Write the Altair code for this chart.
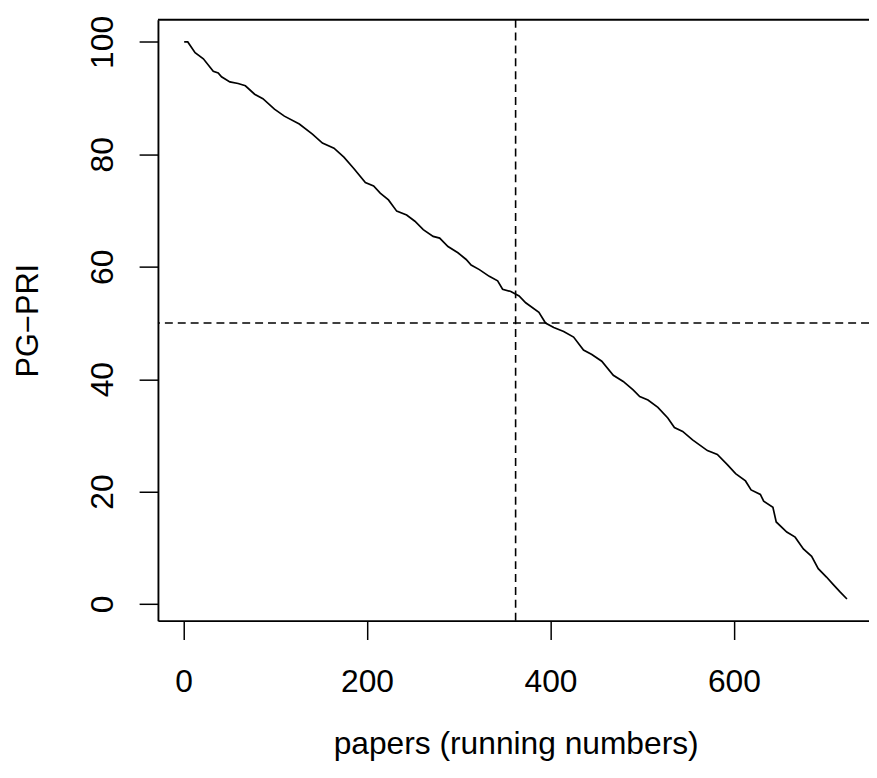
import altair as alt
import pandas as pd

# Breakpoints (paper running number, PG-PRI)
papers = [0.7, 4.6, 12.6, 21.6, 32.4, 37.8, 41.4, 50.5, 59.5, 67.4, 77.5, 86.5,
          99.1, 109.9, 126.2, 140.5, 151.4, 164.0, 174.8, 185.6, 198.2, 207.2,
          214.4, 223.4, 232.4, 243.2, 252.2, 261.3, 272.1, 279.2, 288.3, 299.1,
          308.1, 313.5, 322.5, 333.3, 342.4, 347.8, 356.8, 365.8, 373.0, 387.4,
          394.6, 403.6, 414.4, 425.2, 436.0, 445.1, 455.9, 468.5, 479.3, 490.1,
          497.3, 506.3, 517.1, 527.9, 535.1, 544.1, 554.9, 571.1, 581.9, 592.8,
          601.8, 612.6, 618.7, 628.8, 632.4, 642.5, 646.1, 657.6, 666.7, 675.7,
          684.7, 691.9, 700.9, 708.1, 715.4, 723.2]
pgpri = [100.0, 100.0, 98.1, 97.0, 94.8, 94.5, 93.8, 92.9, 92.6, 92.2, 90.7, 89.9,
         88.05, 86.8, 85.4, 83.6, 82.0, 81.1, 79.5, 77.5, 75.0, 74.4,
         73.1, 71.9, 69.9, 69.2, 68.1, 66.6, 65.4, 65.1, 63.6, 62.5,
         61.3, 60.3, 59.5, 58.3, 57.5, 56.0, 55.6, 54.8, 53.6, 51.9,
         50.0, 49.2, 48.5, 47.5, 45.2, 44.4, 43.2, 40.7, 39.6, 38.1,
         36.9, 36.3, 35.0, 33.1, 31.4, 30.7, 29.2, 27.3, 26.6, 24.8,
         23.2, 21.9, 20.3, 19.5, 18.3, 17.2, 14.6, 12.8, 11.9, 9.8,
         8.5, 6.3, 4.8, 3.5, 2.2, 0.9]

x_ticks = [0, 200, 400, 600]
y_ticks = [0, 20, 40, 60, 80, 100]
median_paper = [362]
half_line = [50]

df = pd.DataFrame({"paper": papers, "pgpri": pgpri})

W = 717
H = 606
FONT = "Liberation Sans"
FS = 32
LW = 1.9

x_scale = alt.Scale(domain=[-27.9, -27.9 + W / 0.925], nice=False, zero=False)
y_scale = alt.Scale(domain=[-2.96, 103.96], nice=False, zero=False)

x_axis = alt.Axis(values=x_ticks, tickSize=19, labelPadding=52, labelBaseline="alphabetic",
                  labelFlush=False, labelOverlap=False, grid=False,
                  title="papers (running numbers)", titleX=360.7, titleY=134,
                  titleAlign="center", titleBaseline="alphabetic")
y_axis = alt.Axis(values=y_ticks, tickSize=19, labelAngle=270, labelAlign="center",
                  labelBaseline="alphabetic", labelPadding=27, labelFlush=False,
                  labelOverlap=False, grid=False,
                  title="PG\u2212PRI", titleAngle=270, titleX=-121.5, titleY=303,
                  titleFontSize=31,
                  titleAlign="center", titleBaseline="alphabetic")

line = alt.Chart(df).mark_line(color="black", strokeWidth=1.7).encode(
    x=alt.X("paper:Q", scale=x_scale, axis=x_axis),
    y=alt.Y("pgpri:Q", scale=y_scale, axis=y_axis),
)

vline = alt.Chart(pd.DataFrame({"v": median_paper})).mark_rule(
    color="black", strokeWidth=1.6, strokeDash=[8, 5]
).encode(x=alt.X("v:Q", scale=x_scale))

hline = alt.Chart(pd.DataFrame({"h": half_line})).mark_rule(
    color="black", strokeWidth=1.6, strokeDash=[8, 5]
).encode(y=alt.Y("h:Q", scale=y_scale))

top_border = alt.Chart(pd.DataFrame({"a": [0]})).mark_rule(
    color="black", strokeWidth=LW
).encode(x=alt.value(0), x2=alt.value(W), y=alt.value(0))

chart = alt.layer(line, vline, hline, top_border).properties(
    width=W, height=H,
    autosize=alt.AutoSizeParams(type="none"),
    padding={"left": 151.2, "top": 8.6, "right": 0, "bottom": 150},
    background="white",
).configure_view(stroke="transparent").configure_axis(
    labelFont=FONT, labelFontSize=FS, labelColor="black",
    titleFont=FONT, titleFontSize=FS, titleColor="black", titleFontWeight="normal",
    tickColor="black", tickWidth=1.5, domainColor="black", domainWidth=LW,
)

chart.save("out.html", embed_options={"renderer": "svg", "actions": False})
